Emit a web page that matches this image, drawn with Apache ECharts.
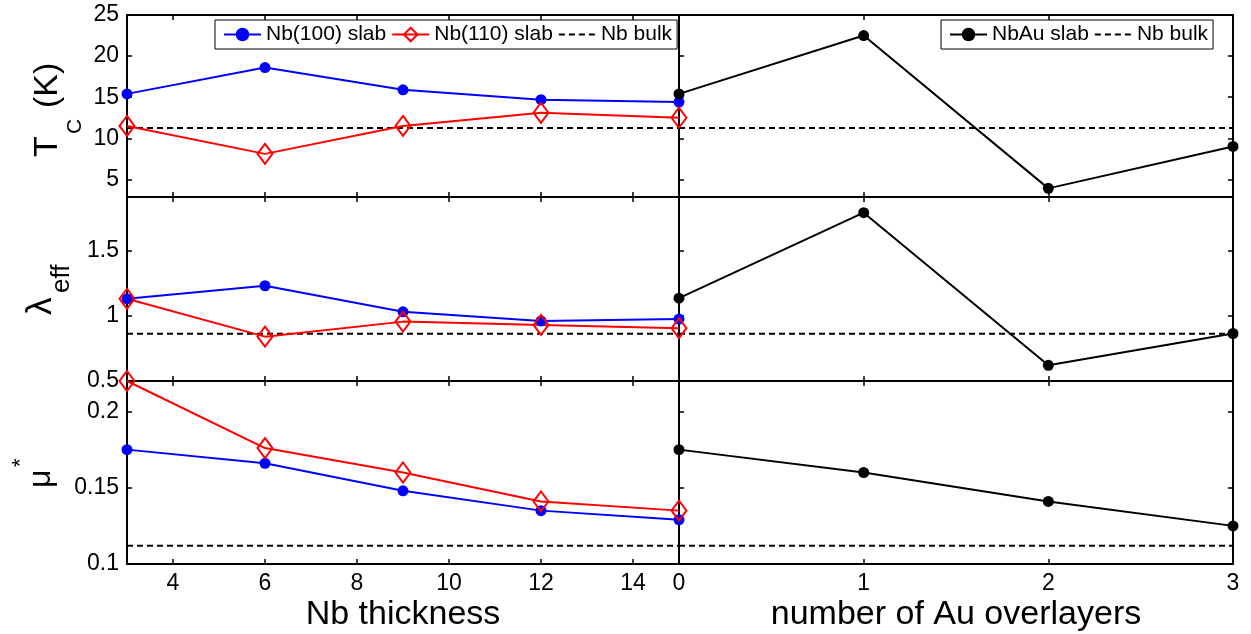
<!DOCTYPE html>
<html>
<head>
<meta charset="utf-8">
<script src="https://cdn.jsdelivr.net/npm/echarts@6/dist/echarts.min.js"></script>
<style>
  html, body { margin: 0; padding: 0; background: #fff; }
  #main { width: 1251px; height: 634px; }
</style>
</head>
<body>
<div id="main"></div>
<script>
// x values
let thickness = [3, 6, 9, 12, 15];
let auLayers = [0, 1, 2, 3];

// T_c (K)
let tc100 = [15.4, 18.6, 15.9, 14.7, 14.4];
let tc110 = [11.5, 8.1, 11.5, 13.1, 12.5];
let tcAu = [15.4, 22.5, 3.9, 9.0];
let tcBulk = 11.25;

// lambda_eff
let lam100 = [1.13, 1.23, 1.03, 0.96, 0.975];
let lam110 = [1.13, 0.84, 0.955, 0.93, 0.905];
let lamAu = [1.135, 1.79, 0.62, 0.864];
let lamBulk = 0.862;

// mu*
let mu100 = [0.175, 0.166, 0.148, 0.135, 0.129];
let mu110 = [0.22, 0.176, 0.16, 0.141, 0.135];
let muAu = [0.175, 0.16, 0.141, 0.125];
let muBulk = 0.112;

// ticks and ranges
let thickTicks = [4, 6, 8, 10, 12, 14];
let auTicks = [0, 1, 2, 3];
let tcTicks = [5, 10, 15, 20, 25];
let lamTicks = [0.5, 1, 1.5];
let muTicks = [0.1, 0.15, 0.2];
let thickRange = [3, 15];
let auRange = [0, 3];
let tcRange = [2.85, 25];
let lamRange = [0.5, 1.91];
let muRange = [0.1, 0.22];

let font = 'Liberation Sans';
let myChart = echarts.init(document.getElementById('main'));

let grids = [
  {left: 127, top: 15, width: 552, height: 182},
  {left: 679, top: 15, width: 554, height: 182},
  {left: 127, top: 197, width: 552, height: 184},
  {left: 679, top: 197, width: 554, height: 184},
  {left: 127, top: 381, width: 552, height: 183},
  {left: 679, top: 381, width: 554, height: 183}
];

function xAx(g, range, ticks, pos, labels, name) {
  return {
    type: 'value', gridIndex: g, position: pos, min: range[0], max: range[1],
    axisLine: {show: true, onZero: false, lineStyle: {color: '#000', width: 2}},
    axisTick: {show: true, inside: true, length: 5, customValues: ticks, lineStyle: {color: '#000', width: 1.5}},
    axisLabel: {show: labels, customValues: ticks, margin: 8, color: '#000', fontSize: 23, fontFamily: font},
    splitLine: {show: false},
    name: name || '', nameLocation: 'middle', nameGap: 34,
    nameTextStyle: {color: '#000', fontSize: 34, fontFamily: font}
  };
}

function yAx(g, range, ticks, pos, labels, showTicks) {
  return {
    type: 'value', gridIndex: g, position: pos, min: range[0], max: range[1],
    axisLine: {show: true, onZero: false, lineStyle: {color: '#000', width: 2}},
    axisTick: {show: showTicks, inside: true, length: 5, customValues: ticks, lineStyle: {color: '#000', width: 1.5}},
    axisLabel: {show: labels, customValues: ticks, margin: 8, color: '#000', fontSize: 23, fontFamily: font},
    splitLine: {show: false}
  };
}

let xAxes = [];
let yAxes = [];
let rows = [[tcRange, tcTicks], [lamRange, lamTicks], [muRange, muTicks]];
for (let r = 0; r < 3; r++) {
  let gl = r * 2, gr = r * 2 + 1;
  let last = r === 2;
  xAxes.push(xAx(gl, thickRange, thickTicks, 'bottom', last, last ? 'Nb thickness' : ''));
  xAxes.push(xAx(gl, thickRange, thickTicks, 'top', false));
  xAxes.push(xAx(gr, auRange, auTicks, 'bottom', last, last ? 'number of Au overlayers' : ''));
  xAxes.push(xAx(gr, auRange, auTicks, 'top', false));
  yAxes.push(yAx(gl, rows[r][0], rows[r][1], 'left', true, true));
  yAxes.push(yAx(gl, rows[r][0], rows[r][1], 'right', false, false));
  yAxes.push(yAx(gr, rows[r][0], rows[r][1], 'left', false, true));
  yAxes.push(yAx(gr, rows[r][0], rows[r][1], 'right', false, true));
}

function pairs(xs, ys) {
  return xs.map((x, i) => [x, ys[i]]);
}

function lineSeries(name, g, data, color, symbol, size, fill) {
  return {
    name: name, type: 'line', xAxisIndex: g * 2, yAxisIndex: g * 2,
    data: data, symbol: symbol, symbolSize: size, clip: false,
    lineStyle: {color: color, width: 2},
    itemStyle: {color: fill, borderColor: color, borderWidth: symbol === 'diamond' ? 2 : 0},
    emphasis: {disabled: true}
  };
}

function bulkSeries(g, xs, v) {
  return {
    name: 'Nb bulk', type: 'line', xAxisIndex: g * 2, yAxisIndex: g * 2,
    data: [[xs[0], v], [xs[xs.length - 1], v]], symbol: 'none', clip: false,
    lineStyle: {color: '#000', width: 2, type: [6, 4]},
    itemStyle: {color: '#000'},
    emphasis: {disabled: true}
  };
}

let series = [];
let leftSets = [[tc100, tc110, tcBulk], [lam100, lam110, lamBulk], [mu100, mu110, muBulk]];
let rightSets = [[tcAu, tcBulk], [lamAu, lamBulk], [muAu, muBulk]];
for (let r = 0; r < 3; r++) {
  series.push(bulkSeries(r * 2, thickness, leftSets[r][2]));
  series.push(lineSeries('Nb(100) slab', r * 2, pairs(thickness, leftSets[r][0]), '#0000ff', 'circle', 11, '#0000ff'));
  series.push(lineSeries('Nb(110) slab', r * 2, pairs(thickness, leftSets[r][1]), '#ff0000', 'diamond', [15, 20], 'rgba(0,0,0,0)'));
  series.push(bulkSeries(r * 2 + 1, auLayers, rightSets[r][1]));
  series.push(lineSeries('NbAu slab', r * 2 + 1, pairs(auLayers, rightSets[r][0]), '#000000', 'circle', 11, '#000000'));
}

let legendBase = {
  orient: 'horizontal', itemWidth: 37, itemHeight: 17, itemGap: 5,
  padding: [4, 5, 4, 8], borderColor: '#000', borderWidth: 1, backgroundColor: '#fff',
  textStyle: {fontSize: 21, fontFamily: font, color: '#000'}, selectedMode: false
};
let bulkItem = {name: 'Nb bulk', itemStyle: {color: 'rgba(0,0,0,0)', borderColor: 'rgba(0,0,0,0)', borderWidth: 0}};

function txt(x, y, s, size) {
  return {type: 'text', x: x, y: y, style: {text: s, fontSize: size, fontFamily: font, fill: '#000', align: 'left', verticalAlign: 'middle'}};
}

option = {
  animation: false,
  backgroundColor: '#fff',
  grid: grids,
  xAxis: xAxes,
  yAxis: yAxes,
  legend: [
    Object.assign({}, legendBase, {data: ['Nb(100) slab', 'Nb(110) slab', bulkItem], left: 215, top: 20}),
    Object.assign({}, legendBase, {data: ['NbAu slab', bulkItem], left: 941, top: 20})
  ],
  graphic: [
    {type: 'group', x: 48, y: 157, rotation: Math.PI / 2, children: [
      txt(0, 0, 'T', 34), txt(23, 27, 'C', 21), txt(49, 0, '(K)', 34)
    ]},
    {type: 'group', x: 41, y: 315, rotation: Math.PI / 2, children: [
      txt(0, 0, 'λ', 35), txt(22, 21, 'eff', 26)
    ]},
    {type: 'group', x: 41, y: 488, rotation: Math.PI / 2, children: [
      txt(0, 0, 'μ', 32), txt(21, -20, '*', 22)
    ]}
  ],
  series: series
};
myChart.setOption(option);
</script>
</body>
</html>
